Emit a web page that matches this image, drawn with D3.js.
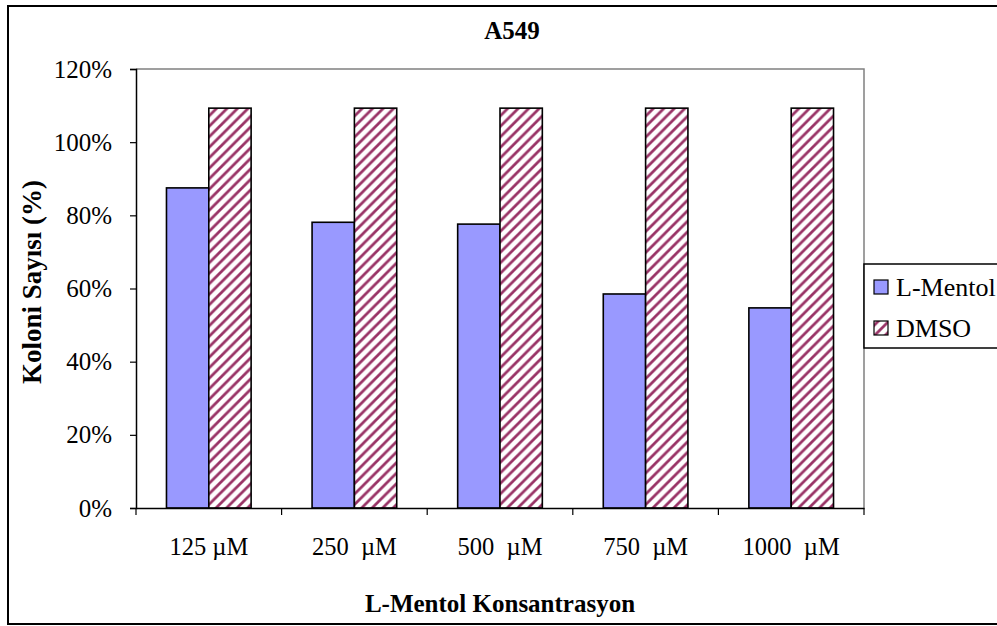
<!DOCTYPE html>
<html>
<head>
<meta charset="utf-8">
<script src="https://cdn.jsdelivr.net/npm/d3@7/dist/d3.min.js"></script>
<style>
  html, body { margin: 0; padding: 0; background: #fff; }
  svg { display: block; }
  text { font-family: "Liberation Serif", "Times New Roman", serif; fill: #000; }
</style>
</head>
<body>
<svg id="chart" width="997" height="626"></svg>
<script>
// Colony counts (% of control) for A549 cells
const categories = ["125 µM", "250  µM", "500  µM", "750  µM", "1000  µM"];
const seriesNames = ["L-Mentol", "DMSO"];
const mentolValues = [0.875, 0.781, 0.776, 0.585, 0.547];
const dmsoValues = [1.093, 1.093, 1.093, 1.093, 1.093];
const yTickValues = [0, 0.2, 0.4, 0.6, 0.8, 1.0, 1.2];

const chartTitle = "A549";
const yTitle = "Koloni Sayısı (%)";
const xTitle = "L-Mentol Konsantrasyon";

const seriesColor = { "L-Mentol": "#9999ff", "DMSO": "#993366" };

const svg = d3.select("#chart");

// hatch fill for the DMSO bars
const defs = svg.append("defs");
const P = 10.5;
const hatch = defs.append("pattern")
  .attr("id", "hatch")
  .attr("patternUnits", "userSpaceOnUse")
  .attr("width", P).attr("height", P);
hatch.append("rect").attr("width", P).attr("height", P).attr("fill", "#fff");
hatch.append("path")
  .attr("d", `M0,${P} L${P},0 M-3,3 L3,-3 M${P - 3},${P + 3} L${P + 3},${P - 3}`)
  .attr("stroke", seriesColor.DMSO).attr("stroke-width", 2.7);

const fillFor = s => s === "DMSO" ? "url(#hatch)" : seriesColor[s];

// outer chart frame
svg.append("rect")
  .attr("x", 8).attr("y", 6).attr("width", 1010).attr("height", 618)
  .attr("fill", "none").attr("stroke", "#000").attr("stroke-width", 2);

const plot = { left: 136, right: 864, top: 69, bottom: 508 };

const x0 = d3.scaleBand().domain(categories)
  .range([plot.left, plot.right]).paddingInner(0).paddingOuter(0);
const x1 = d3.scaleBand().domain(seriesNames)
  .range([0, x0.bandwidth()]).paddingInner(0).paddingOuter(0.72);
const y = d3.scaleLinear().domain([0, 1.2]).range([plot.bottom, plot.top]);

// plot area border (top and right)
svg.append("path")
  .attr("d", `M${plot.left},${plot.top}H${plot.right}V${plot.bottom}`)
  .attr("fill", "none").attr("stroke", "#808080").attr("stroke-width", 1.5);

// bars
const rows = categories.map((c, i) => ({ cat: c, values: [
  { s: "L-Mentol", v: mentolValues[i] },
  { s: "DMSO", v: dmsoValues[i] }
]}));

svg.append("g").selectAll("g")
  .data(rows).join("g")
  .attr("transform", d => `translate(${x0(d.cat)},0)`)
  .selectAll("rect")
  .data(d => d.values).join("rect")
  .attr("x", d => x1(d.s))
  .attr("width", x1.bandwidth())
  .attr("y", d => y(d.v))
  .attr("height", d => y(0) - y(d.v))
  .attr("fill", d => fillFor(d.s))
  .attr("stroke", "#000").attr("stroke-width", 1.6);

// y axis
const yAxis = svg.append("g")
  .attr("transform", `translate(${plot.left},0)`)
  .call(d3.axisLeft(y).tickValues(yTickValues)
    .tickFormat(d3.format(".0%")).tickSize(6).tickPadding(18));
yAxis.select(".domain").attr("stroke", "#000").attr("stroke-width", 1.5);
yAxis.selectAll(".tick line").attr("stroke", "#000").attr("stroke-width", 1.2);
yAxis.selectAll(".tick text")
  .attr("font-family", "Liberation Serif").attr("font-size", 25).attr("fill", "#000");

// x axis: labels centred in each group, tick marks on group boundaries
const xAxis = svg.append("g")
  .attr("transform", `translate(0,${plot.bottom})`)
  .call(d3.axisBottom(x0).tickSize(0).tickPadding(0));
xAxis.select(".domain").attr("stroke", "#000").attr("stroke-width", 1.5);
xAxis.selectAll(".tick text")
  .attr("font-family", "Liberation Serif").attr("font-size", 24.5).attr("fill", "#000")
  .attr("dy", null).attr("y", 47)
  .style("white-space", "pre");
const bounds = categories.map(c => x0(c)).concat([x0.range()[1]]);
xAxis.selectAll("line.bound").data(bounds).join("line")
  .attr("class", "bound")
  .attr("x1", d => d).attr("x2", d => d)
  .attr("y1", 0).attr("y2", 7)
  .attr("stroke", "#000").attr("stroke-width", 1.2);

// titles
svg.append("text")
  .attr("x", 512).attr("y", 39)
  .attr("text-anchor", "middle")
  .attr("font-size", 25).attr("font-weight", "bold")
  .text(chartTitle);

svg.append("text")
  .attr("transform", "translate(41,282) rotate(-90)")
  .attr("text-anchor", "middle")
  .attr("font-size", 27).attr("font-weight", "bold")
  .text(yTitle);

svg.append("text")
  .attr("x", 500).attr("y", 612)
  .attr("text-anchor", "middle")
  .attr("font-size", 25).attr("font-weight", "bold")
  .text(xTitle);

// legend
const legend = svg.append("g");
legend.append("rect")
  .attr("x", 864).attr("y", 264).attr("width", 160).attr("height", 84)
  .attr("fill", "#fff").attr("stroke", "#000").attr("stroke-width", 1.5);
const legendY = d3.scalePoint().domain(seriesNames).range([287, 328]);
const item = legend.selectAll("g.item").data(seriesNames).join("g")
  .attr("class", "item")
  .attr("transform", d => `translate(0,${legendY(d)})`);
item.append("rect")
  .attr("x", 874).attr("y", -7).attr("width", 14).attr("height", 14)
  .attr("fill", d => fillFor(d))
  .attr("stroke", "#000").attr("stroke-width", 1.2);
item.append("text")
  .attr("x", 896).attr("y", 9)
  .attr("font-size", 26)
  .text(d => d);
</script>
</body>
</html>
